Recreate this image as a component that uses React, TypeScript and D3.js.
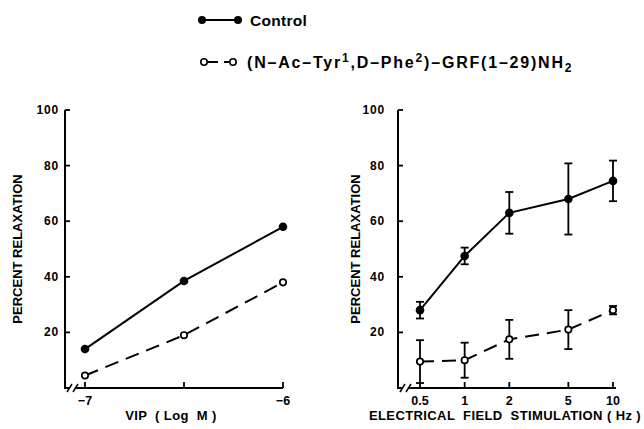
import React from "react";
import * as d3 from "d3";

const vipDoses = [-7, -6.5, -6];
const vipControl = [14, 38.5, 58];
const vipAntagonist = [4.5, 19, 38];

const efsFreq = [0.5, 1, 2, 5, 10];
const efsControl = [28, 47.5, 63, 68, 74.5];
const efsControlErr = [3, 3, 7.5, 12.8, 7.3];
const efsAntagonist = [9.5, 10, 17.5, 21, 28];
const efsAntagonistErr = [7.7, 6.3, 7, 7, 1.5];

const yTicks = [20, 40, 60, 80, 100];
const vipTickVals = [-7, -6.5, -6];
const vipTickLabels = ["−7", "", "−6"];
const efsTickLabels = ["0.5", "1", "2", "5", "10"];

const FONT = "'Liberation Sans', Arial, Helvetica, sans-serif";

function Panel({
  x0, x1, xScale, xs, ctrl, anta, ctrlErr, antaErr, tickVals, tickLabels, xTitle, xTitleX, yTitleX, labelGap,
}: any) {
  const y = d3.scaleLinear().domain([0, 100]).range([388, 110]);
  const line = d3
    .line<number>()
    .x((_, i) => xScale(xs[i]))
    .y((d) => y(d));
  const yAxisY0 = y(0);
  return (
    <g>
      {/* y axis */}
      <line x1={x0} x2={x0} y1={y(100)} y2={yAxisY0} stroke="#000" strokeWidth={2} />
      {yTicks.map((t) => (
        <g key={t}>
          <line x1={x0} x2={x0 + 5} y1={y(t)} y2={y(t)} stroke="#000" strokeWidth={1.8} />
          <text
            x={x0 - labelGap}
            y={y(t)}
            textAnchor="end"
            dominantBaseline="central"
            fontSize={12}
            fontWeight="bold"
            letterSpacing={0.8}
            fontFamily={FONT}
          >
            {t}
          </text>
        </g>
      ))}
      {/* x axis with break */}
      <line x1={x0 - 1} x2={x0 + 4} y1={yAxisY0} y2={yAxisY0} stroke="#000" strokeWidth={2} />
      <line x1={x0 + 2} x2={x0 + 7} y1={yAxisY0 + 4} y2={yAxisY0 - 4} stroke="#000" strokeWidth={1.5} />
      <line x1={x0 + 8} x2={x0 + 13} y1={yAxisY0 + 4} y2={yAxisY0 - 4} stroke="#000" strokeWidth={1.5} />
      <line x1={x0 + 11} x2={x1} y1={yAxisY0} y2={yAxisY0} stroke="#000" strokeWidth={2} />
      {tickVals.map((t: number, i: number) => (
        <g key={i}>
          <line
            x1={xScale(t)}
            x2={xScale(t)}
            y1={yAxisY0}
            y2={yAxisY0 - 6}
            stroke="#000"
            strokeWidth={1.8}
          />
          <text
            x={xScale(t)}
            y={401}
            textAnchor="middle"
            dominantBaseline="central"
            fontSize={12.5}
            fontWeight="bold"
            fontFamily={FONT}
          >
            {tickLabels[i]}
          </text>
        </g>
      ))}
      <text
        x={xTitleX}
        y={415}
        textAnchor="middle"
        dominantBaseline="central"
        fontSize={13}
        fontWeight="bold"
        letterSpacing={0.4}
        fontFamily={FONT}
        style={{ whiteSpace: "pre" }}
      >
        {xTitle}
      </text>
      <text
        transform={`translate(${yTitleX},${y(50)}) rotate(-90)`}
        textAnchor="middle"
        dominantBaseline="central"
        fontSize={13}
        fontWeight="bold"
        fontFamily={FONT}
      >
        PERCENT RELAXATION
      </text>
      {/* error bars */}
      {ctrlErr &&
        ctrl.map((v: number, i: number) => {
          const cx = xScale(xs[i]);
          const e = ctrlErr[i];
          return (
            <g key={"ce" + i} stroke="#000" strokeWidth={1.8}>
              <line x1={cx} x2={cx} y1={y(v + e)} y2={y(v - e)} />
              <line x1={cx - 4} x2={cx + 4} y1={y(v + e)} y2={y(v + e)} />
              <line x1={cx - 4} x2={cx + 4} y1={y(v - e)} y2={y(v - e)} />
            </g>
          );
        })}
      {antaErr &&
        anta.map((v: number, i: number) => {
          const cx = xScale(xs[i]);
          const e = antaErr[i];
          return (
            <g key={"ae" + i} stroke="#000" strokeWidth={1.8}>
              <line x1={cx} x2={cx} y1={y(v + e)} y2={y(v - e)} />
              <line x1={cx - 4} x2={cx + 4} y1={y(v + e)} y2={y(v + e)} />
              <line x1={cx - 4} x2={cx + 4} y1={y(v - e)} y2={y(v - e)} />
            </g>
          );
        })}
      <path d={line(ctrl) || ""} fill="none" stroke="#000" strokeWidth={2} />
      <path d={line(anta) || ""} fill="none" stroke="#000" strokeWidth={2} strokeDasharray="14,8" />
      {ctrl.map((v: number, i: number) => (
        <circle key={"c" + i} cx={xScale(xs[i])} cy={y(v)} r={4.3} fill="#000" />
      ))}
      {anta.map((v: number, i: number) => (
        <circle
          key={"a" + i}
          cx={xScale(xs[i])}
          cy={y(v)}
          r={3.2}
          fill="#fff"
          stroke="#000"
          strokeWidth={1.7}
        />
      ))}
    </g>
  );
}

export default function App() {
  const xVip = d3.scaleLinear().domain([-7, -6]).range([85, 283]);
  const xEfs = d3.scaleLog().domain([0.5, 10]).range([420, 613]);
  return (
    <div style={{ position: "fixed", left: 0, top: 0 }}>
      <svg width={644} height={429} style={{ display: "block", background: "#fff" }}>
        {/* legend */}
        <g fontFamily={FONT} fontWeight="bold">
          <line x1={202} x2={238} y1={20} y2={20} stroke="#000" strokeWidth={2} />
          <circle cx={202} cy={20} r={4} fill="#000" />
          <circle cx={238} cy={20} r={4} fill="#000" />
          <text x={250} y={20} dominantBaseline="central" fontSize={15.5} letterSpacing={0.3}>
            Control
          </text>
          <line x1={207} x2={218} y1={62} y2={62} stroke="#000" strokeWidth={2} />
          <line x1={224} x2={229} y1={62} y2={62} stroke="#000" strokeWidth={2} />
          <circle cx={204} cy={62} r={3.2} fill="#fff" stroke="#000" strokeWidth={1.6} />
          <circle cx={233} cy={62} r={3.2} fill="#fff" stroke="#000" strokeWidth={1.6} />
          <text x={247} y={67.5} fontSize={16} letterSpacing={1.8}>
            (N–Ac–Tyr
            <tspan fontSize={12} dy={-6}>1</tspan>
            <tspan dy={6}>,D–Phe</tspan>
            <tspan fontSize={12} dy={-6}>2</tspan>
            <tspan dy={6}>)–GRF(1–29)NH</tspan>
            <tspan fontSize={12} dy={4}>2</tspan>
          </text>
        </g>
        <Panel
          x0={65}
          x1={283}
          xScale={xVip}
          xs={vipDoses}
          ctrl={vipControl}
          anta={vipAntagonist}
          tickVals={vipTickVals}
          tickLabels={vipTickLabels}
          xTitle={"VIP  ( Log  M )"}
          xTitleX={171}
          yTitleX={17}
          labelGap={6}
        />
        <Panel
          x0={398}
          x1={616}
          xScale={xEfs}
          xs={efsFreq}
          ctrl={efsControl}
          anta={efsAntagonist}
          ctrlErr={efsControlErr}
          antaErr={efsAntagonistErr}
          tickVals={efsFreq}
          tickLabels={efsTickLabels}
          xTitle={"ELECTRICAL  FIELD  STIMULATION ( Hz )"}
          xTitleX={505}
          yTitleX={355}
          labelGap={13}
        />
      </svg>
    </div>
  );
}
